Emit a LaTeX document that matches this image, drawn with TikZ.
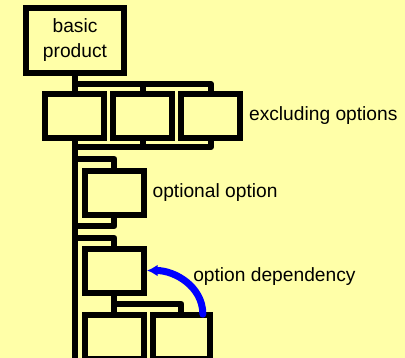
\documentclass[tikz,border=0pt]{standalone}
\usepackage{fontspec}
\setmainfont{Liberation Sans}
\usetikzlibrary{positioning,arrows.meta,backgrounds}
\definecolor{paper}{RGB}{255,255,168}
\definecolor{deparrow}{RGB}{0,0,255}

\begin{document}
\begin{tikzpicture}[x=0.75pt, y=-0.75pt,
    optbox/.style={draw, line width=4.5pt, fill=paper, minimum width=44.25pt, minimum height=33pt, inner sep=0pt},
    link/.style={line width=4.5pt, line join=round},
    caption/.style={inner sep=0pt, font=\fontsize{14.4}{18.75}\selectfont},
    depend/.style={draw=deparrow, line width=5.25pt, line cap=round, -{Latex[length=8pt,width=9pt]}}]
    \useasboundingbox (0,0) rectangle (405,358);

    % Product and its options
    \node[optbox, minimum width=73.5pt, minimum height=48.75pt, align=center,
          font=\fontsize{14.4}{18.75}\selectfont] (basic) at (75,40.5) {basic\\product};
    \node[optbox] (ex1) at (75,116) {};
    \node[optbox] (ex2) at (143,116) {};
    \node[optbox] (ex3) at (211,116) {};
    \node[optbox] (opt) at (114.5,192.5) {};
    \node[optbox] (dep) at (114.5,270.5) {};
    \node[optbox] (sub1) at (114.5,336.5) {};
    \node[optbox, minimum width=42.75pt] (sub2) at (181.5,336.5) {};

    % Labels
    \node[caption, right=4pt of ex3] (exlabel) {excluding options};
    \node[caption, right=4pt of opt] (optlabel) {optional option};
    \node[caption, anchor=west] (deplabel) at (193,277) {option dependency};

    % Tree lines behind the boxes
    \begin{scope}[on background layer]
        \fill[paper] (0,0) rectangle (405,358);
        \coordinate (bottom) at (75,362);
        \coordinate (exin) at (75,84);
        \coordinate (exout) at (75,147);
        \coordinate (optin) at (75,159);
        \coordinate (optout) at (75,226);
        \coordinate (depin) at (75,238);
        \coordinate (fork) at (114.5,304);
        \draw[link] (basic.south) -- (bottom);
        \draw[link] (ex2.north) |- (exin);
        \draw[link] (ex3.north) |- (exin);
        \draw[link] (ex2.south) |- (exout);
        \draw[link] (ex3.south) |- (exout);
        \draw[link] (opt.north) |- (optin);
        \draw[link] (opt.south) |- (optout);
        \draw[link] (dep.north) |- (depin);
        \draw[link] (dep.south) -- (sub1.north);
        \draw[link] (fork) -| (sub2.north);
    \end{scope}

    % Dependency
    \draw[depend] ([xshift=16pt,yshift=-2pt]sub2.north) to[out=90, in=0] (dep.east);
\end{tikzpicture}
\end{document}
